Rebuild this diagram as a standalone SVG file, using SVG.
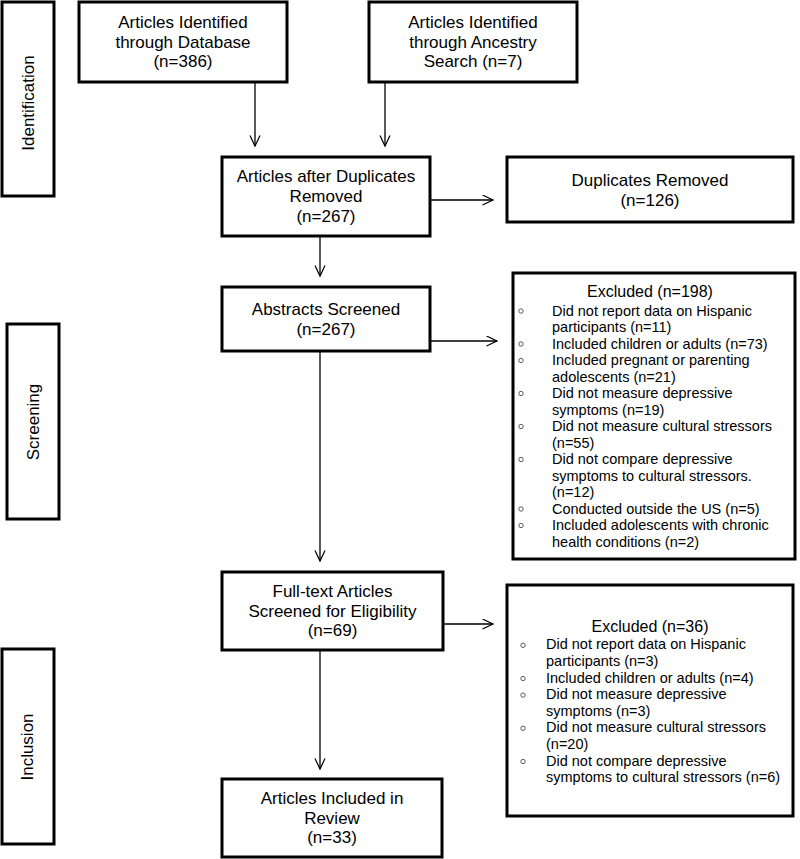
<svg xmlns="http://www.w3.org/2000/svg" width="800" height="859" viewBox="0 0 800 859">
<defs>
<marker id="ah" markerUnits="userSpaceOnUse" markerWidth="14" markerHeight="12" refX="11" refY="5.5" orient="auto">
<path d="M0.5,0.5 L11,5.5 L0.5,10.5" fill="none" stroke="#000" stroke-width="1.2"/>
</marker>
<style>
.box{fill:#fff;stroke:#000;stroke-width:3}
.t{font-family:"Liberation Sans",Arial,sans-serif;font-size:17px;fill:#000;text-anchor:middle}
.h{font-family:"Liberation Sans",Arial,sans-serif;font-size:16px;fill:#000;text-anchor:middle}
.s{font-family:"Liberation Sans",Arial,sans-serif;font-size:14.5px;fill:#000}
.b{fill:none;stroke:#333;stroke-width:0.8}
.c{fill:none;stroke:#000;stroke-width:1.3;marker-end:url(#ah)}
</style>
</defs>
<rect width="800" height="859" fill="#fff"/>

<g id="label-identification">
<rect class="box" x="2" y="2" width="52" height="194"/>
<text class="t" x="34" y="103" transform="rotate(-90 34 103)">Identification</text>
</g>
<g id="label-screening">
<rect class="box" x="7" y="324" width="52" height="195"/>
<text class="t" x="39" y="422" transform="rotate(-90 39 422)">Screening</text>
</g>
<g id="label-inclusion">
<rect class="box" x="2" y="649" width="52" height="195"/>
<text class="t" x="33" y="747" transform="rotate(-90 33 747)">Inclusion</text>
</g>

<g id="connectors">
<line class="c" x1="255" y1="82" x2="255" y2="146"/>
<line class="c" x1="385" y1="82" x2="385" y2="146"/>
<line class="c" x1="430" y1="200" x2="493" y2="200"/>
<line class="c" x1="320" y1="236" x2="320" y2="276"/>
<line class="c" x1="430" y1="341" x2="497" y2="341"/>
<line class="c" x1="320" y1="351" x2="320" y2="561"/>
<line class="c" x1="443" y1="624" x2="493" y2="624"/>
<line class="c" x1="320" y1="650" x2="320" y2="769"/>
</g>

<g id="database">
<rect class="box" x="79" y="2" width="208" height="80"/>
<text class="t" x="183" y="28">Articles Identified</text>
<text class="t" x="183" y="47.5">through Database</text>
<text class="t" x="183" y="67">(n=386)</text>
</g>
<g id="ancestry">
<rect class="box" x="369" y="2" width="208" height="80"/>
<text class="t" x="473" y="28">Articles Identified</text>
<text class="t" x="473" y="47.5">through Ancestry</text>
<text class="t" x="473" y="67">Search (n=7)</text>
</g>
<g id="after-duplicates">
<rect class="box" x="222" y="157" width="208" height="79"/>
<text class="t" x="326" y="182">Articles after Duplicates</text>
<text class="t" x="326" y="202">Removed</text>
<text class="t" x="326" y="221.5">(n=267)</text>
</g>
<g id="duplicates-removed">
<rect class="box" x="507" y="157" width="286" height="65"/>
<text class="t" x="650" y="185.5">Duplicates Removed</text>
<text class="t" x="650" y="205.5">(n=126)</text>
</g>
<g id="abstracts">
<rect class="box" x="222" y="287" width="208" height="64"/>
<text class="t" x="326" y="314.5">Abstracts Screened</text>
<text class="t" x="326" y="334.5">(n=267)</text>
</g>
<g id="excluded-198">
<rect class="box" x="513" y="273" width="282" height="286"/>
<text class="h" x="650" y="297">Excluded (n=198)</text>
<g class="s">
<text x="552" y="315.5">Did not report data on Hispanic</text>
<text x="552" y="332">participants (n=11)</text>
<text x="552" y="348.5">Included children or adults (n=73)</text>
<text x="552" y="365">Included pregnant or parenting</text>
<text x="552" y="381.5">adolescents (n=21)</text>
<text x="552" y="398">Did not measure depressive</text>
<text x="552" y="414.5">symptoms (n=19)</text>
<text x="552" y="431">Did not measure cultural stressors</text>
<text x="552" y="447.5">(n=55)</text>
<text x="552" y="464">Did not compare depressive</text>
<text x="552" y="480.5">symptoms to cultural stressors.</text>
<text x="552" y="497">(n=12)</text>
<text x="552" y="513.5">Conducted outside the US (n=5)</text>
<text x="552" y="530">Included adolescents with chronic</text>
<text x="552" y="546.5">health conditions (n=2)</text>
</g>
<circle class="b" cx="521" cy="311" r="2.2"/>
<circle class="b" cx="521" cy="344" r="2.2"/>
<circle class="b" cx="521" cy="360.5" r="2.2"/>
<circle class="b" cx="521" cy="393.5" r="2.2"/>
<circle class="b" cx="521" cy="426.5" r="2.2"/>
<circle class="b" cx="521" cy="459.5" r="2.2"/>
<circle class="b" cx="521" cy="509" r="2.2"/>
<circle class="b" cx="521" cy="525.5" r="2.2"/>
</g>
<g id="fulltext">
<rect class="box" x="222" y="572" width="221" height="78"/>
<text class="t" x="332.5" y="597">Full-text Articles</text>
<text class="t" x="332.5" y="616.5">Screened for Eligibility</text>
<text class="t" x="332.5" y="636">(n=69)</text>
</g>
<g id="excluded-36">
<rect class="box" x="507" y="585" width="286" height="231"/>
<text class="h" x="650" y="632">Excluded (n=36)</text>
<g class="s">
<text x="546" y="649.3">Did not report data on Hispanic</text>
<text x="546" y="665.9">participants (n=3)</text>
<text x="546" y="682.5">Included children or adults (n=4)</text>
<text x="546" y="699.1">Did not measure depressive</text>
<text x="546" y="715.7">symptoms (n=3)</text>
<text x="546" y="732.3">Did not measure cultural stressors</text>
<text x="546" y="748.9">(n=20)</text>
<text x="546" y="765.5">Did not compare depressive</text>
<text x="546" y="782.1">symptoms to cultural stressors (n=6)</text>
</g>
<circle class="b" cx="523" cy="645.3" r="2.2"/>
<circle class="b" cx="523" cy="678.5" r="2.2"/>
<circle class="b" cx="523" cy="695.1" r="2.2"/>
<circle class="b" cx="523" cy="728.3" r="2.2"/>
<circle class="b" cx="523" cy="761.5" r="2.2"/>
</g>
<g id="included">
<rect class="box" x="222" y="779" width="220" height="78"/>
<text class="t" x="332" y="804">Articles Included in</text>
<text class="t" x="332" y="824">Review</text>
<text class="t" x="332" y="843">(n=33)</text>
</g>
</svg>
